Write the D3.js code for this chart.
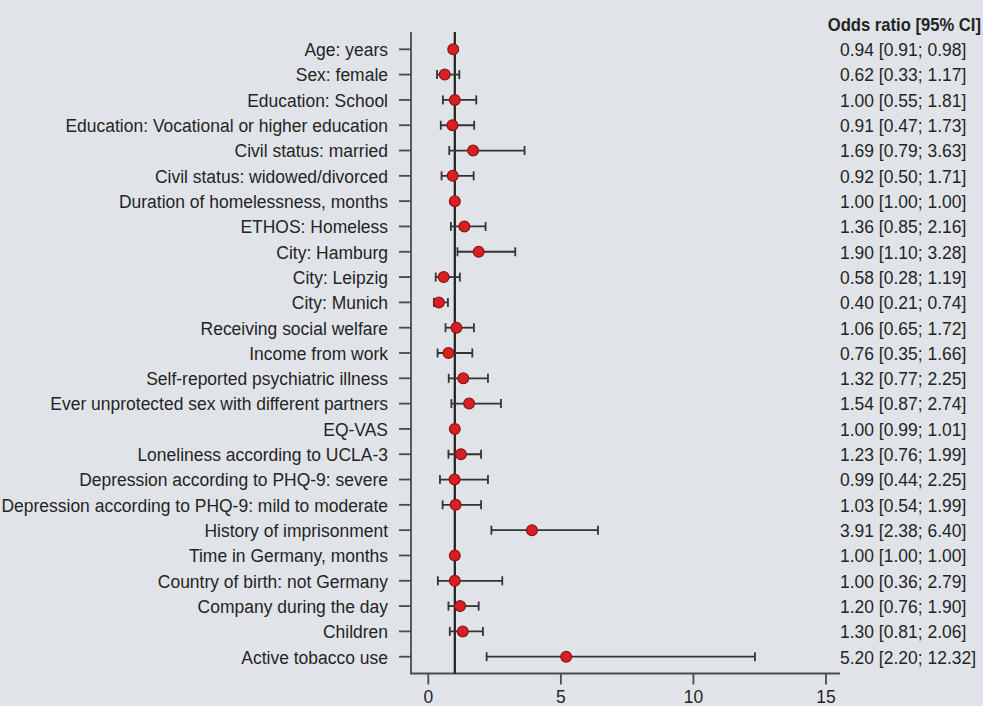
<!DOCTYPE html>
<html>
<head>
<meta charset="utf-8">
<script src="https://cdn.jsdelivr.net/npm/d3@7"></script>
<style>
  html, body { margin: 0; padding: 0; background: #e0e4e9; }
  svg { display: block; }
  text { font-family: "Liberation Sans", Arial, sans-serif; font-size: 19px; fill: #242424; }
</style>
</head>
<body>
<svg id="chart" width="983" height="706"></svg>
<script>
const labels = [
  "Age: years",
  "Sex: female",
  "Education: School",
  "Education: Vocational or higher education",
  "Civil status: married",
  "Civil status: widowed/divorced",
  "Duration of homelessness, months",
  "ETHOS: Homeless",
  "City: Hamburg",
  "City: Leipzig",
  "City: Munich",
  "Receiving social welfare",
  "Income from work",
  "Self-reported psychiatric illness",
  "Ever unprotected sex with different partners",
  "EQ-VAS",
  "Loneliness according to UCLA-3",
  "Depression according to PHQ-9: severe",
  "Depression according to PHQ-9: mild to moderate",
  "History of imprisonment",
  "Time in Germany, months",
  "Country of birth: not Germany",
  "Company during the day",
  "Children",
  "Active tobacco use"
];
const oddsRatio = [0.94, 0.62, 1.00, 0.91, 1.69, 0.92, 1.00, 1.36, 1.90, 0.58, 0.40, 1.06, 0.76, 1.32, 1.54, 1.00, 1.23, 0.99, 1.03, 3.91, 1.00, 1.00, 1.20, 1.30, 5.20];
const ciLower   = [0.91, 0.33, 0.55, 0.47, 0.79, 0.50, 1.00, 0.85, 1.10, 0.28, 0.21, 0.65, 0.35, 0.77, 0.87, 0.99, 0.76, 0.44, 0.54, 2.38, 1.00, 0.36, 0.76, 0.81, 2.20];
const ciUpper   = [0.98, 1.17, 1.81, 1.73, 3.63, 1.71, 1.00, 2.16, 3.28, 1.19, 0.74, 1.72, 1.66, 2.25, 2.74, 1.01, 1.99, 2.25, 1.99, 6.40, 1.00, 2.79, 1.90, 2.06, 12.32];
const xTicks = [0, 5, 10, 15];
const refValue = 1;
const columnTitle = "Odds ratio [95% CI]";

const data = labels.map((l, i) => ({ label: l, or: oddsRatio[i], lo: ciLower[i], hi: ciUpper[i] }));
const fmt = d3.format(".2f");
const sx = 0.92; // condensed look

const svg = d3.select("#chart");
const x = d3.scaleLinear().domain([0, 15]).range([428.3, 826]);
const y = d3.scalePoint().domain(labels).range([49.3, 656.7]);

const axisLeftX = 411, axisBottomY = 673.5, plotTop = 32, axisRightX = 840;
const axisInk = "#4a4a4a", barInk = "#333";

function tr(px, py, s = sx) { return `translate(${px},${py}) scale(${s},1)`; }

// Left axis line and ticks
svg.append("line").attr("x1", axisLeftX).attr("x2", axisLeftX)
  .attr("y1", plotTop).attr("y2", axisBottomY)
  .attr("stroke", axisInk).attr("stroke-width", 1.8);
svg.append("g").selectAll("line").data(labels).join("line")
  .attr("x1", axisLeftX - 12).attr("x2", axisLeftX)
  .attr("y1", d => y(d)).attr("y2", d => y(d))
  .attr("stroke", axisInk).attr("stroke-width", 1.8);
svg.append("g").selectAll("text").data(labels).join("text")
  .attr("transform", d => tr(388, y(d))).attr("dy", "0.36em")
  .attr("text-anchor", "end").text(d => d);

// Bottom axis line and ticks
svg.append("line").attr("x1", axisLeftX - 0.9).attr("x2", axisRightX)
  .attr("y1", axisBottomY).attr("y2", axisBottomY)
  .attr("stroke", axisInk).attr("stroke-width", 1.8);
svg.append("g").selectAll("line").data(xTicks).join("line")
  .attr("x1", d => x(d)).attr("x2", d => x(d))
  .attr("y1", axisBottomY).attr("y2", axisBottomY + 11)
  .attr("stroke", axisInk).attr("stroke-width", 1.8);
svg.append("g").selectAll("text").data(xTicks).join("text")
  .attr("transform", d => tr(x(d), 703))
  .attr("text-anchor", "middle").text(d => d);

// Reference line
svg.append("line").attr("x1", x(refValue)).attr("x2", x(refValue))
  .attr("y1", plotTop).attr("y2", axisBottomY)
  .attr("stroke", "#1e1e1e").attr("stroke-width", 2.2);

// CI bars
const g = svg.append("g").selectAll("g").data(data).join("g");
g.append("line")
  .attr("x1", d => x(d.lo)).attr("x2", d => x(d.hi))
  .attr("y1", d => y(d.label)).attr("y2", d => y(d.label))
  .attr("stroke", barInk).attr("stroke-width", 1.8);
g.append("line")
  .attr("x1", d => x(d.lo)).attr("x2", d => x(d.lo))
  .attr("y1", d => y(d.label) - 4.5).attr("y2", d => y(d.label) + 4.5)
  .attr("stroke", barInk).attr("stroke-width", 1.8);
g.append("line")
  .attr("x1", d => x(d.hi)).attr("x2", d => x(d.hi))
  .attr("y1", d => y(d.label) - 4.5).attr("y2", d => y(d.label) + 4.5)
  .attr("stroke", barInk).attr("stroke-width", 1.8);
g.append("circle")
  .attr("cx", d => x(d.or)).attr("cy", d => y(d.label)).attr("r", 5.4)
  .attr("fill", "#d91f22").attr("stroke", "#8c1416").attr("stroke-width", 1.2);

// Right column
svg.append("text").attr("transform", tr(981, 24, 0.875)).attr("dy", "0.36em")
  .attr("text-anchor", "end")
  .style("font-weight", "bold").text(columnTitle);
svg.append("g").selectAll("text").data(data).join("text")
  .attr("transform", d => tr(840, y(d.label))).attr("dy", "0.36em")
  .text(d => `${fmt(d.or)} [${fmt(d.lo)}; ${fmt(d.hi)}]`);
</script>
</body>
</html>
